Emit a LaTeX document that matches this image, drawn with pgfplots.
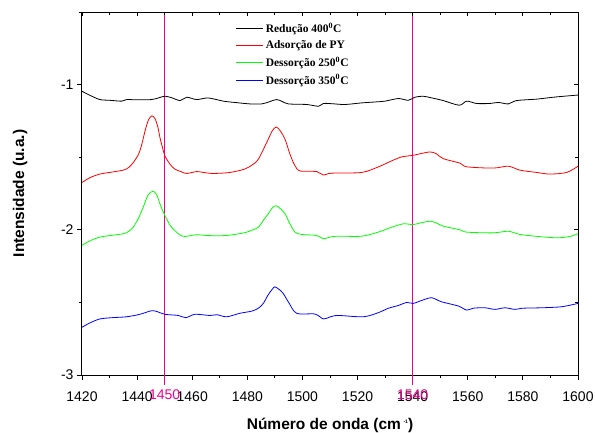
\documentclass[border=0pt]{standalone}
\usepackage{fontspec}
\setmainfont{Liberation Sans}
\newfontfamily\legfont{Liberation Serif}
\usepackage{pgfplots}
\pgfplotsset{compat=1.18}
\begin{document}
\begin{tikzpicture}
\begin{axis}[
 scale only axis, width=496pt, height=363pt,
 xmin=1420, xmax=1600, ymin=-3, ymax=-0.5,
 xtick={1420,1440,...,1600}, minor x tick num=1,
 ytick={-3,-2,-1}, yticklabels={-3,-2,-1}, minor ytick={-2.5,-1.5,-0.5},
 xtick pos=left, ytick pos=left, tick align=outside,
 major tick length=5pt, minor tick length=3pt,
 axis line style={line width=1pt},
 every tick/.style={black, line width=0.8pt},
 tick label style={font=\fontsize{14}{16}\selectfont},
 xticklabel style={yshift=-8pt},
 /pgf/number format/assume math mode=true, /pgf/number format/1000 sep={},
 extra x ticks={1450,1540}, extra x tick labels={1450,1540},
 extra x tick style={grid=major, major grid style={magenta, line width=1.2pt},
   major tick length=10pt, tick style={magenta, line width=1.2pt},
   tick label style={magenta, yshift=7pt}},
 xlabel={\bfseries N\'umero de onda (cm\,\raisebox{6pt}{\fontsize{5}{5}\selectfont -1})},
 ylabel={\bfseries Intensidade (u.a.)},
 label style={font=\fontsize{15.5}{17}\selectfont},
 x label style={at={(axis description cs:0.5,0)}, anchor=center, yshift=-50pt},
 y label style={at={(axis description cs:-0.125,0.5)}, anchor=center},
 legend style={at={(axis description cs:0.304,0.982)}, anchor=north west, draw=none, fill=none,
   font=\legfont\bfseries\fontsize{11.5}{13}\selectfont, row sep=2.6pt},
 legend cell align=left,
 legend image code/.code={\draw[#1] (0pt,0pt) -- (27pt,0pt);},
 every axis plot/.append style={line width=0.8pt, smooth, no markers},
]
\addplot[black] coordinates {
(1420,-1.046) (1423,-1.075) (1426.5,-1.103) (1430,-1.108) (1434.4,-1.114) (1436.2,-1.103)
(1440,-1.105) (1445.3,-1.103) (1448,-1.09) (1450.1,-1.08) (1452.5,-1.09) (1455.6,-1.11)
(1458,-1.087) (1461.6,-1.103) (1465.8,-1.092) (1471.3,-1.114) (1476,-1.124) (1481,-1.133)
(1485.2,-1.133) (1488,-1.118) (1490.6,-1.103) (1492.5,-1.115) (1494.9,-1.133) (1501.5,-1.137)
(1505.8,-1.149) (1507.6,-1.130) (1511,-1.132) (1515.4,-1.137) (1521.5,-1.126) (1526,-1.12)
(1529.9,-1.114) (1534.8,-1.096) (1538.4,-1.108) (1540.8,-1.087) (1543.8,-1.08) (1547,-1.092)
(1551.1,-1.11) (1556.9,-1.142) (1559.6,-1.114) (1563.2,-1.13) (1568,-1.13) (1571.1,-1.123)
(1574.7,-1.133) (1577.7,-1.11) (1585,-1.10) (1592,-1.085) (1600,-1.072)
};
\addlegendentry{Redu\c{c}\~ao 400\textsuperscript{0}C}
\addplot[red] coordinates {
(1420,-1.674) (1423,-1.64) (1426.5,-1.616) (1430,-1.605) (1435,-1.589) (1437,-1.57)
(1438.6,-1.537) (1440.5,-1.48) (1441.7,-1.411) (1443,-1.31) (1444.2,-1.24) (1445.4,-1.215)
(1446.5,-1.235) (1447.5,-1.29) (1448.3,-1.366) (1449.3,-1.44) (1450.1,-1.491) (1452,-1.55)
(1453.7,-1.582) (1456,-1.60) (1458,-1.612) (1461.6,-1.599) (1464,-1.605) (1467.6,-1.612)
(1473.7,-1.605) (1479,-1.582) (1482,-1.55) (1484,-1.514) (1487,-1.40) (1489,-1.32)
(1490.5,-1.292) (1492,-1.32) (1493.7,-1.377) (1495.3,-1.47) (1496.7,-1.537) (1498,-1.58)
(1499.5,-1.596) (1505.2,-1.599) (1507.6,-1.623) (1510.6,-1.61) (1521.5,-1.605) (1527.5,-1.567)
(1532.4,-1.525) (1536,-1.498) (1540.2,-1.487) (1543,-1.475) (1546.3,-1.464) (1548.5,-1.475)
(1551.1,-1.51) (1557.2,-1.541) (1559.6,-1.566) (1569.2,-1.575) (1574.7,-1.562) (1578.9,-1.589)
(1585,-1.605) (1589.8,-1.616) (1595.9,-1.605) (1600,-1.562)
};
\addlegendentry{Adsor\c{c}\~ao de PY}
\addplot[green] coordinates {
(1420,-2.107) (1423,-2.075) (1426.5,-2.05) (1430,-2.04) (1435,-2.027) (1437,-2.01)
(1438.6,-1.982) (1440.5,-1.92) (1442.2,-1.845) (1444,-1.76) (1445.7,-1.735) (1447,-1.755)
(1448.3,-1.822) (1449.3,-1.87) (1450.1,-1.902) (1452,-1.97) (1453.7,-2.005) (1455.5,-2.035)
(1457.4,-2.046) (1461.6,-2.034) (1466,-2.04) (1472.5,-2.039) (1479,-2.02) (1482,-2.00)
(1484,-1.982) (1486,-1.93) (1487.6,-1.89) (1489,-1.85) (1490.4,-1.834) (1492,-1.855)
(1493.7,-1.89) (1495.5,-1.96) (1497.3,-2.016) (1499.7,-2.032) (1505.2,-2.039) (1507.6,-2.062)
(1510,-2.05) (1513,-2.044) (1521.5,-2.044) (1527.5,-2.016) (1532.4,-1.982) (1536.6,-1.959)
(1540.2,-1.964) (1543,-1.952) (1546.3,-1.941) (1548.5,-1.952) (1551.1,-1.975) (1557.2,-2.0)
(1559.6,-2.016) (1569.2,-2.021) (1574.7,-2.01) (1578.9,-2.032) (1585,-2.045) (1592.2,-2.055)
(1597,-2.046) (1600,-2.027)
};
\addlegendentry{Dessor\c{c}\~ao 250\textsuperscript{0}C}
\addplot[blue] coordinates {
(1420,-2.671) (1423,-2.64) (1426.5,-2.614) (1431,-2.605) (1436.2,-2.599) (1441,-2.582)
(1445.3,-2.557) (1447.5,-2.565) (1450.1,-2.582) (1454.9,-2.59) (1457.7,-2.605) (1461,-2.582)
(1466.4,-2.59) (1469,-2.585) (1472.5,-2.599) (1477.3,-2.575) (1481.6,-2.56) (1484,-2.54)
(1485.8,-2.507) (1487.5,-2.45) (1489,-2.41) (1490,-2.393) (1491.5,-2.41) (1493,-2.438)
(1495,-2.5) (1497.9,-2.575) (1504.5,-2.58) (1507.6,-2.614) (1510,-2.6) (1513,-2.59)
(1522.1,-2.599) (1527.5,-2.571) (1531.1,-2.541) (1535,-2.52) (1537.8,-2.5) (1540.2,-2.507)
(1543.5,-2.485) (1546.9,-2.468) (1550.5,-2.496) (1556.6,-2.525) (1559.6,-2.553) (1562,-2.54)
(1566.2,-2.537) (1569.9,-2.548) (1573.5,-2.537) (1577.1,-2.548) (1580,-2.54) (1586.8,-2.537)
(1594,-2.53) (1600,-2.507)
};
\addlegendentry{Dessor\c{c}\~ao 350\textsuperscript{0}C}
\end{axis}
\begin{axis}[
 scale only axis, width=496pt, height=363pt,
 xmin=1420, xmax=1600, ymin=-3, ymax=-0.5,
 xtick={1420,1440,...,1600}, minor x tick num=1,
 ytick={-3,-2,-1}, minor ytick={-2.5,-1.5,-0.5},
 xtick pos=right, ytick pos=right, tick align=inside,
 major tick length=4pt, minor tick length=3pt,
 xticklabels={}, yticklabels={},
 axis line style={draw=none},
 every tick/.style={black, line width=0.8pt},
]
\end{axis}
\pgfresetboundingbox
\path[use as bounding box] (-82pt,-57pt) rectangle (513pt,375pt);
\end{tikzpicture}
\end{document}
